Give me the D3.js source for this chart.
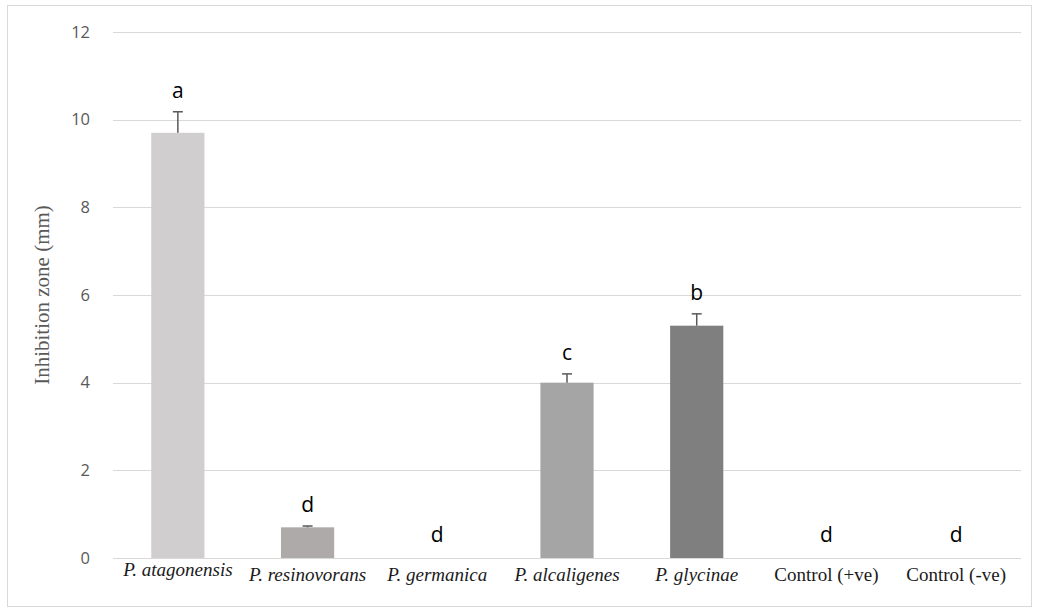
<!DOCTYPE html>
<html>
<head>
<meta charset="utf-8">
<script src="https://cdn.jsdelivr.net/npm/d3@7"></script>
<style>
  body { margin: 0; background: #fff; }
</style>
</head>
<body>
<svg id="chart" width="1038" height="611"></svg>
<script>
var categories = ["P. atagonensis", "P. resinovorans", "P. germanica", "P. alcaligenes", "P. glycinae", "Control (+ve)", "Control (-ve)"];
var italicLabel = [true, true, true, true, true, false, false];
var values = [9.7, 0.7, 0, 4.0, 5.3, 0, 0];
var errors = [0.48, 0.03, 0, 0.2, 0.27, 0, 0];
var letters = ["a", "d", "d", "c", "b", "d", "d"];
var barColors = ["#d0cece", "#aeaaaa", "#a5a5a5", "#a5a5a5", "#7f7f7f", "#a5a5a5", "#a5a5a5"];
var yTicks = [0, 2, 4, 6, 8, 10, 12];

var svg = d3.select("#chart");
var margin = {left: 113, right: 17, top: 32, bottom: 53};
var W = 1038, H = 611;

svg.append("rect")
  .attr("x", 7.5).attr("y", 5.5)
  .attr("width", 1024).attr("height", 601)
  .attr("fill", "#fff").attr("stroke", "#d9d9d9");

var x = d3.scaleBand()
  .domain(categories)
  .range([margin.left, W - margin.right])
  .paddingInner(0.59).paddingOuter(0.295);

var y = d3.scaleLinear().domain([0, 12]).range([H - margin.bottom, margin.top]);

// gridlines
svg.append("g").selectAll("line")
  .data(yTicks)
  .enter().append("line")
  .attr("x1", margin.left).attr("x2", W - margin.right)
  .attr("y1", function(d) { return Math.round(y(d)) + 0.5; })
  .attr("y2", function(d) { return Math.round(y(d)) + 0.5; })
  .attr("stroke", "#d9d9d9").attr("stroke-width", 1);

// y tick labels
svg.append("g").selectAll("text")
  .data(yTicks)
  .enter().append("text")
  .attr("x", 90).attr("y", function(d) { return y(d); })
  .attr("dy", "0.35em")
  .attr("text-anchor", "end")
  .attr("font-family", "'Open Sans', sans-serif")
  .attr("font-size", 16.5)
  .attr("fill", "#595959")
  .text(function(d) { return d; });

// y title
svg.append("text")
  .attr("transform", "translate(49," + ((margin.top + H - margin.bottom) / 2) + ") rotate(-90)")
  .attr("text-anchor", "middle")
  .attr("font-family", "'Liberation Serif', 'Times New Roman', serif")
  .attr("font-size", 21)
  .attr("fill", "#595959")
  .text("Inhibition zone (mm)");

var data = categories.map(function(c, i) {
  return {cat: c, v: values[i], e: errors[i], l: letters[i], col: barColors[i], it: italicLabel[i]};
});

// bars
svg.append("g").selectAll("rect")
  .data(data.filter(function(d) { return d.v > 0; }))
  .enter().append("rect")
  .attr("x", function(d) { return x(d.cat); })
  .attr("width", x.bandwidth())
  .attr("y", function(d) { return y(d.v); })
  .attr("height", function(d) { return y(0) - y(d.v); })
  .attr("fill", function(d) { return d.col; });

// error bars
var eb = svg.append("g").selectAll("g")
  .data(data.filter(function(d) { return d.e > 0; }))
  .enter().append("g")
  .attr("stroke", "#595959").attr("stroke-width", 1.5);
eb.append("line")
  .attr("x1", function(d) { return x(d.cat) + x.bandwidth() / 2; })
  .attr("x2", function(d) { return x(d.cat) + x.bandwidth() / 2; })
  .attr("y1", function(d) { return y(d.v); })
  .attr("y2", function(d) { return y(d.v + d.e); });
eb.append("line")
  .attr("x1", function(d) { return x(d.cat) + x.bandwidth() / 2 - 5; })
  .attr("x2", function(d) { return x(d.cat) + x.bandwidth() / 2 + 5; })
  .attr("y1", function(d) { return y(d.v + d.e); })
  .attr("y2", function(d) { return y(d.v + d.e); });

// significance letters
svg.append("g").selectAll("text")
  .data(data)
  .enter().append("text")
  .attr("x", function(d) { return x(d.cat) + x.bandwidth() / 2; })
  .attr("y", function(d) { return y(d.v + d.e) - (d.v > 0 ? 14 : 16); })
  .attr("text-anchor", "middle")
  .attr("font-family", "'Open Sans', sans-serif")
  .attr("font-size", 21)
  .attr("fill", "#000")
  .text(function(d) { return d.l; });

// x labels
svg.append("g").selectAll("text")
  .data(data)
  .enter().append("text")
  .attr("x", function(d) { return x(d.cat) + x.bandwidth() / 2; })
  .attr("y", function(d, i) { return i === 0 ? 576 : 581; })
  .attr("text-anchor", "middle")
  .attr("font-family", "'Liberation Serif', 'Times New Roman', serif")
  .attr("font-style", function(d) { return d.it ? "italic" : "normal"; })
  .attr("font-size", 19)
  .attr("fill", "#1a1a1a")
  .text(function(d) { return d.cat; });
</script>
</body>
</html>
